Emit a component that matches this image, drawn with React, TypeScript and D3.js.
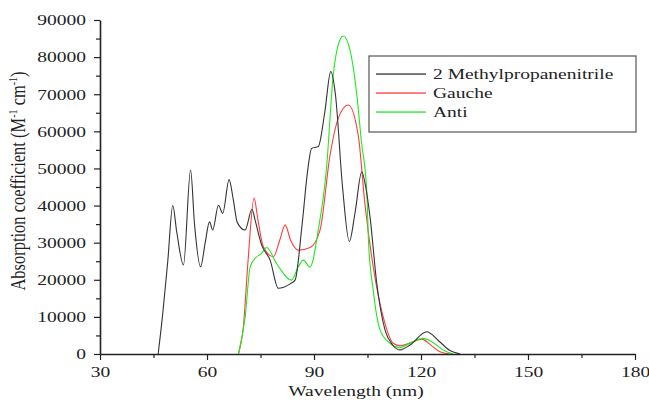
import React, { useEffect, useRef } from "react";
import * as d3 from "d3";

// wavelength (nm), absorption coefficient (M^-1 cm^-1)
const methylWl = [46.3, 47.5, 49, 50.4, 51.5, 53.4, 55.4, 56.5, 58.2, 59.5, 60.7, 61.6, 63.2, 64.4, 66.2, 67.3, 68.5, 70.7, 72.6, 73.5, 75.3, 77.7, 80.0, 83.3, 84.7, 86.6, 88.3, 89.3, 91.2, 93, 94.7, 96, 98, 99.9, 101.5, 103.4, 104.5, 105.7, 107.6, 109.9, 112, 114.1, 117, 121.6, 125, 128, 131];
const methylVal = [0, 10000, 25000, 40000, 33000, 24000, 49600, 35000, 23500, 30000, 35600, 33400, 40100, 37900, 47000, 42000, 35400, 33400, 39000, 36000, 29400, 25300, 17700, 18900, 19900, 34300, 50000, 55400, 55900, 65000, 76100, 70000, 45000, 30300, 38000, 49100, 45000, 37000, 19000, 6500, 2500, 1100, 2500, 6000, 3500, 1000, 0];

const gaucheWl = [68.8, 70.2, 71.5, 73.2, 74.3, 75.8, 78.6, 80.5, 81.9, 83.5, 85.6, 88.9, 91.7, 94.5, 96.8, 99.6, 102.4, 104.3, 106.6, 109.4, 112.2, 114.1, 117, 120.2, 123, 125.3, 128];
const gaucheVal = [0, 7400, 25000, 42000, 36000, 28900, 26200, 31000, 34800, 30500, 28000, 28700, 33400, 53600, 63500, 67100, 59000, 40200, 23500, 10000, 2900, 2200, 3000, 4000, 2200, 600, 0];

const antiWl = [68.8, 70.7, 72.1, 73.5, 75.3, 76.7, 79.5, 83.7, 85.6, 87, 88.9, 91.2, 93.5, 95.4, 96.8, 98.2, 100.1, 101.9, 103.3, 104.8, 105.3, 106.6, 108.5, 111.3, 114.1, 117, 120.6, 123, 126.2, 129];
const antiVal = [0, 10000, 23500, 25800, 27100, 28700, 24400, 19900, 23500, 25300, 23400, 33400, 50000, 75200, 83300, 85700, 81900, 70700, 57200, 43700, 30000, 17200, 6500, 2900, 1700, 3000, 4200, 3300, 1100, 0];

const seriesNames = ["2 Methylpropanenitrile", "Gauche", "Anti"];
const seriesColors = ["#333333", "#ff3b3b", "#22e822"];

const xTicks = [30, 60, 90, 120, 150, 180];
const yTicks = [0, 10000, 20000, 30000, 40000, 50000, 60000, 70000, 80000, 90000];

const W = 649;
const H = 400;
const FONT = "Liberation Serif, Times New Roman, DejaVu Serif, serif";
// the reference is stretched horizontally, so text glyphs are widened
const STRETCH = 1.3;

export default function App() {
  const ref = useRef<SVGSVGElement>(null);

  useEffect(() => {
    const svg = d3.select(ref.current);
    svg.selectAll("*").remove();

    const x = d3.scaleLinear().domain([30, 180]).range([100, 635]);
    const y = d3.scaleLinear().domain([0, 90000]).range([354, 20]);

    const series = [
      { wl: methylWl, val: methylVal },
      { wl: gaucheWl, val: gaucheVal },
      { wl: antiWl, val: antiVal },
    ];

    const line = d3
      .line<[number, number]>()
      .x((d) => x(d[0]))
      .y((d) => y(d[1]))
      .curve(d3.curveMonotoneX);

    const plot = svg.append("g");
    [1, 2, 0].forEach((i) => {
      const pts = series[i].wl.map((w, k) => [w, series[i].val[k]] as [number, number]);
      plot
        .append("path")
        .attr("d", line(pts))
        .attr("fill", "none")
        .attr("stroke", seriesColors[i])
        .attr("stroke-width", 1.1);
    });

    // minor ticks
    svg
      .append("g")
      .attr("transform", "translate(0,354)")
      .call(d3.axisBottom(x).tickValues(d3.range(45, 180, 30)).tickSize(4).tickFormat(() => ""))
      .call((g) => g.select(".domain").remove());
    svg
      .append("g")
      .attr("transform", "translate(100,0)")
      .call(d3.axisLeft(y).tickValues(d3.range(5000, 90000, 10000)).tickSize(4).tickFormat(() => ""))
      .call((g) => g.select(".domain").remove());

    // major axes
    const xAxis = svg
      .append("g")
      .attr("transform", "translate(0,354)")
      .call(d3.axisBottom(x).tickValues(xTicks).tickSize(6).tickSizeOuter(0).tickPadding(6).tickFormat(d3.format("d")));
    const yAxis = svg
      .append("g")
      .attr("transform", "translate(100,0)")
      .call(d3.axisLeft(y).tickValues(yTicks).tickSize(6).tickSizeOuter(0).tickPadding(8).tickFormat(d3.format("d")));

    [xAxis, yAxis].forEach((g) => {
      g.select(".domain").attr("stroke", "#222").attr("stroke-width", 1.6);
      g.selectAll(".tick text").attr("font-family", FONT).attr("font-size", 15).attr("fill", "#222");
    });
    svg.selectAll(".tick line").attr("stroke", "#222").attr("stroke-width", 1.2);

    // axis titles
    svg
      .append("text")
      .attr("class", "wide")
      .attr("x", 356)
      .attr("y", 396)
      .attr("text-anchor", "middle")
      .attr("font-family", FONT)
      .attr("font-size", 15)
      .attr("fill", "#222")
      .text("Wavelength (nm)");

    const yt = svg
      .append("text")
      .attr("transform", `translate(25,181) rotate(-90) scale(1,${STRETCH})`)
      .attr("text-anchor", "middle")
      .attr("font-family", FONT)
      .attr("font-size", 16.5)
      .attr("fill", "#222");
    yt.append("tspan").text("Absorption coefficient (M");
    yt.append("tspan").attr("font-size", 10).attr("dy", -6).text("-1");
    yt.append("tspan").attr("dy", 6).text(" cm");
    yt.append("tspan").attr("font-size", 10).attr("dy", -6).text("-1");
    yt.append("tspan").attr("dy", 6).text(")");

    // legend
    const lg = svg.append("g");
    lg.append("rect")
      .attr("x", 369)
      .attr("y", 56)
      .attr("width", 267)
      .attr("height", 76)
      .attr("fill", "white")
      .attr("stroke", "#555")
      .attr("stroke-width", 1.2);
    seriesNames.forEach((name, i) => {
      const ly = 74 + i * 19;
      lg.append("rect")
        .attr("x", 376)
        .attr("y", ly - 0.6)
        .attr("width", 50)
        .attr("height", 1.3)
        .style("fill", seriesColors[i]);
      lg.append("text")
        .attr("class", "wide")
        .attr("x", 433)
        .attr("y", ly + 5)
        .attr("font-family", FONT)
        .attr("font-size", 15)
        .attr("fill", "#222")
        .text(name);
    });

    // widen glyphs to mimic the horizontally stretched reference
    svg.selectAll<SVGTextElement, unknown>(".tick text, text.wide").each(function () {
      const len = this.getComputedTextLength();
      if (len > 0) {
        d3.select(this)
          .attr("textLength", len * STRETCH)
          .attr("lengthAdjust", "spacingAndGlyphs");
      }
    });
  }, []);

  return (
    <svg
      ref={ref}
      width={W}
      height={H}
      style={{ position: "absolute", left: 0, top: 0, background: "white" }}
    />
  );
}
